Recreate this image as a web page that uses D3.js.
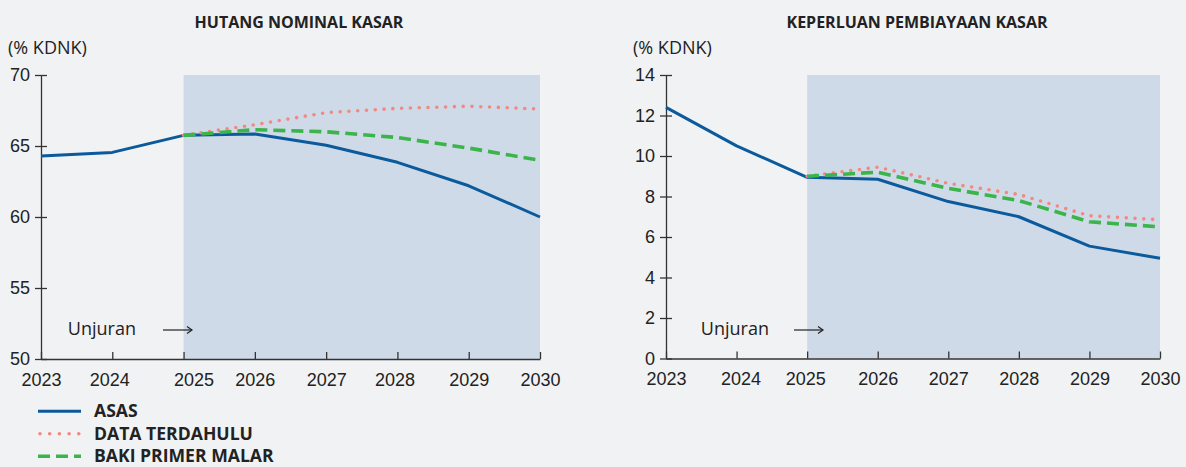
<!DOCTYPE html>
<html lang="ms">
<head>
<meta charset="UTF-8">
<title>Hutang nominal kasar dan keperluan pembiayaan kasar</title>
<script src="https://d3js.org/d3.v7.min.js"></script>
<style>
    body { margin: 0; background: #f1f2f4; }
    svg { display: block; font-family: "Open Sans", "Noto Sans", sans-serif; }
    .axis path, .axis line { stroke: #333; stroke-width: 1.3; }
    .axis text { font-size: 18px; fill: #222; }
    .title { font-size: 16px; font-weight: 700; fill: #222; }
    .unit { font-size: 18px; fill: #222; }
    .note { font-size: 18px; fill: #222; }
    .legend text { font-size: 17.6px; font-weight: 700; fill: #222; }
</style>
</head>
<body>
<svg id="chart" width="1186" height="467"></svg>
<script>
// years on the x axis, projection period shaded
var years = [2023, 2024, 2025, 2026, 2027, 2028, 2029, 2030];
var projYears = [2025, 2026, 2027, 2028, 2029, 2030];

// Hutang nominal kasar (% KDNK)
var debtAsas = [64.3, 64.55, 65.75, 65.85, 65.05, 63.85, 62.2, 60.0];
var debtPrevious = [65.75, 66.5, 67.35, 67.65, 67.8, 67.6];
var debtPrimary = [65.75, 66.15, 66.0, 65.6, 64.85, 64.0];

// Keperluan pembiayaan kasar (% KDNK)
var gfnAsas = [12.4, 10.5, 8.95, 8.85, 7.75, 7.0, 5.55, 4.95];
var gfnPrevious = [9.0, 9.45, 8.65, 8.1, 7.05, 6.85];
var gfnPrimary = [9.0, 9.2, 8.4, 7.8, 6.75, 6.5];

var debtTicks = [50, 55, 60, 65, 70];
var gfnTicks = [0, 2, 4, 6, 8, 10, 12, 14];

var seriesNames = ["ASAS", "DATA TERDAHULU", "BAKI PRIMER MALAR"];

var styles = [
    { color: "#0b5a9c", width: 3, dash: null, cap: "butt" },
    { color: "#f4877f", width: 3.6, dash: "0 8.8", cap: "round" },
    { color: "#3bb54a", width: 3.6, dash: "12 6", cap: "butt" }
];

var svg = d3.select("#chart");

var panels = [
    {
        title: "HUTANG NOMINAL KASAR", titleX: 299,
        xRange: [41, 540], yDomain: [50, 70], yRange: [359, 75], ticks: debtTicks,
        series: [debtAsas, debtPrevious, debtPrimary],
        unitX: 8, note: { textEnd: 136, arrowFrom: 163, arrowTo: 192 },
        labelShift: { 2025: 10, 2024: -3, 2028: -3 }
    },
    {
        title: "KEPERLUAN PEMBIAYAAN KASAR", titleX: 917,
        xRange: [666, 1160], yDomain: [0, 14], yRange: [358.5, 75], ticks: gfnTicks,
        series: [gfnAsas, gfnPrevious, gfnPrimary],
        unitX: 633, note: { textEnd: 769, arrowFrom: 794, arrowTo: 823 },
        labelShift: { 2024: 4, 2025: -2 }
    }
];

panels.forEach(function(p) {
    var x = d3.scaleLinear().domain([2023, 2030]).range(p.xRange);
    var y = d3.scaleLinear().domain(p.yDomain).range(p.yRange);
    var g = svg.append("g");

    // projection shading
    g.append("rect")
        .attr("x", x(2025))
        .attr("y", y(p.yDomain[1]))
        .attr("width", x(2030) - x(2025))
        .attr("height", y(p.yDomain[0]) - y(p.yDomain[1]))
        .attr("fill", "#cfdae9");

    g.append("text").attr("class", "title")
        .attr("x", p.titleX).attr("y", 27.5)
        .attr("text-anchor", "middle").text(p.title);

    g.append("text").attr("class", "unit")
        .attr("x", p.unitX).attr("y", 54).text("(% KDNK)");

    // y axis, ticks crossing the line
    var ya = g.append("g").attr("class", "axis")
        .attr("transform", "translate(" + p.xRange[0] + ",0)")
        .call(d3.axisLeft(y).tickValues(p.ticks).tickSize(6).tickPadding(5).tickSizeOuter(0));
    ya.selectAll(".tick line").attr("x1", 6);

    // x axis, ticks pointing up
    var xa = g.append("g").attr("class", "axis")
        .attr("transform", "translate(0," + p.yRange[0] + ")")
        .call(d3.axisBottom(x).tickValues(years).tickFormat(d3.format("d"))
            .tickSizeInner(-7).tickSizeOuter(0).tickPadding(14));
    xa.selectAll(".tick text").attr("dx", function(d) { return p.labelShift[d] || 0; });

    // Unjuran annotation
    g.append("text").attr("class", "note")
        .attr("x", p.note.textEnd).attr("y", 335)
        .attr("text-anchor", "end").text("Unjuran");
    g.append("line")
        .attr("x1", p.note.arrowFrom).attr("x2", p.note.arrowTo)
        .attr("y1", 330).attr("y2", 330)
        .attr("stroke", "#222").attr("stroke-width", 1.2);
    g.append("path")
        .attr("d", "M" + (p.note.arrowTo - 5) + ",326.5L" + p.note.arrowTo + ",330L" + (p.note.arrowTo - 5) + ",333.5")
        .attr("fill", "none").attr("stroke", "#222").attr("stroke-width", 1.2);

    var line = d3.line().x(function(d) { return x(d[0]); }).y(function(d) { return y(d[1]); });

    p.series.forEach(function(vals, i) {
        var xs = i === 0 ? years : projYears;
        var st = styles[i];
        g.append("path")
            .datum(d3.zip(xs, vals))
            .attr("d", line)
            .attr("fill", "none")
            .attr("stroke", st.color)
            .attr("stroke-width", st.width)
            .attr("stroke-linecap", st.cap)
            .attr("stroke-linejoin", "round")
            .attr("stroke-dasharray", st.dash);
    });
});

// legend
var legend = svg.append("g").attr("class", "legend");
var legendRows = d3.scaleBand().domain(seriesNames).range([400, 467.5]);
seriesNames.forEach(function(name, i) {
    var cy = legendRows(name) + legendRows.bandwidth() / 2;
    var st = styles[i];
    legend.append("line")
        .attr("x1", i === 1 ? 40 : 38).attr("x2", 81)
        .attr("y1", cy).attr("y2", cy)
        .attr("stroke", st.color)
        .attr("stroke-width", st.width)
        .attr("stroke-linecap", st.cap)
        .attr("stroke-dasharray", i === 1 ? "0 9.7" : st.dash);
    legend.append("text")
        .attr("x", 94).attr("y", cy + 6)
        .text(name);
});
</script>
</body>
</html>
